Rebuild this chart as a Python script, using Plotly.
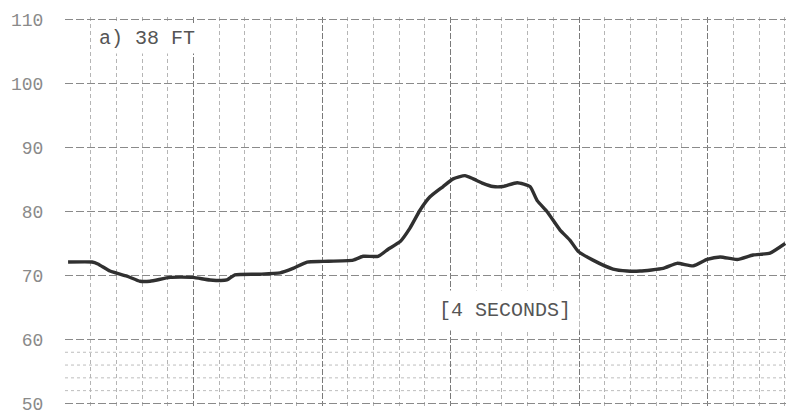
import plotly.graph_objects as go

# Chart divisions (one minor grid division per unit) and recorded level
time_div = [0.12, 1.05, 1.28, 1.75, 2.41, 2.92, 3.31, 4.09, 4.98, 5.64, 6.30, 6.61,
            7.59, 8.37, 8.87, 9.42, 10.04, 11.21, 11.60, 12.18, 12.57, 13.04, 13.42,
            13.81, 14.20, 14.71, 15.10, 15.56, 15.88, 16.26, 16.65, 17.04, 17.59,
            18.09, 18.37, 18.75, 19.26, 19.65, 19.96, 20.54, 21.32, 21.87, 22.37,
            23.27, 23.81, 24.44, 24.98, 25.49, 26.15, 26.77, 27.43, 28.02]
level = [72.1, 72.1, 71.8, 70.7, 69.9, 69.1, 69.1, 69.7, 69.7, 69.3, 69.3, 70.1,
         70.2, 70.4, 71.1, 72.1, 72.2, 72.4, 73.0, 73.0, 74.1, 75.3, 77.4,
         80.2, 82.3, 83.9, 85.1, 85.6, 85.1, 84.4, 83.9, 83.9, 84.5,
         83.9, 81.7, 80.0, 77.1, 75.5, 73.8, 72.4, 71.0, 70.7, 70.7,
         71.1, 71.9, 71.5, 72.5, 72.9, 72.5, 73.2, 73.5, 75.0]

y_ticks = [50, 60, 70, 80, 90, 100, 110]
fine_levels = [52, 54, 56, 58]

panel_label = "a) 38 FT"
span_label = "[4 SECONDS]"

mono = "Liberation Mono, Courier New, monospace"

fig = go.Figure()
fig.add_trace(go.Scatter(
    x=time_div, y=level, mode="lines",
    line=dict(color="#303030", width=3.4, shape="spline", smoothing=0.5),
    hoverinfo="skip", showlegend=False,
))

# fine horizontal rulings in the lowest band
for lv in fine_levels:
    fig.add_shape(type="line", xref="paper", x0=0, x1=1, yref="y", y0=lv, y1=lv,
                  line=dict(color="#bdbdbd", width=1, dash="dot"), layer="below")

fig.add_annotation(x=1.15, y=107.1, xref="x", yref="y", text=panel_label,
                   showarrow=False, xanchor="left", yanchor="middle",
                   font=dict(family=mono, size=20, color="#555555"),
                   bgcolor="white", borderpad=3)
fig.add_annotation(x=14.2, y=64.6, xref="x", yref="y", text=span_label,
                   showarrow=False, xanchor="left", yanchor="middle",
                   font=dict(family=mono, size=20, color="#555555"),
                   bgcolor="white", borderpad=8)

fig.update_layout(
    width=786, height=414,
    margin=dict(l=65, r=0, t=17, b=8, autoexpand=False),
    paper_bgcolor="white", plot_bgcolor="white",
    xaxis=dict(
        range=[0, 28.05], dtick=5, tick0=0,
        showticklabels=False, zeroline=False, showline=False, ticks="",
        showgrid=True, gridcolor="#7a7a7a", gridwidth=1.4, griddash="6px,2px",
        minor=dict(dtick=1, showgrid=True, gridcolor="#b5b5b5",
                   gridwidth=1, griddash="4px,3px"),
    ),
    yaxis=dict(
        range=[49.6, 110.4], tickvals=y_ticks, automargin=False,
        ticks="outside", ticklen=17, tickcolor="rgba(0,0,0,0)",
        ticklabeloverflow="allow",
        tickfont=dict(family=mono, size=18, color="#8a8a8a"),
        zeroline=False, showline=False,
        showgrid=True, gridcolor="#8a8a8a", gridwidth=1, griddash="8px,3px",
    ),
)

fig.write_html("out.html")
